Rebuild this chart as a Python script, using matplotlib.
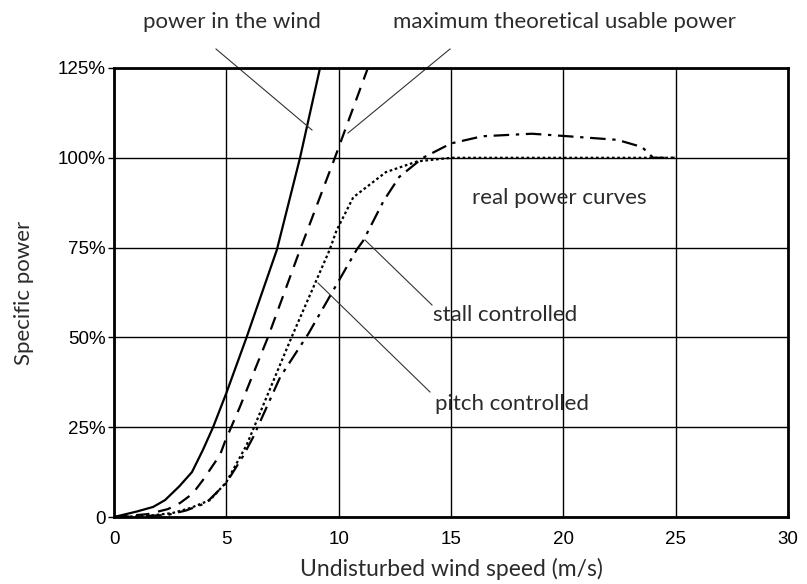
import matplotlib
matplotlib.use("Agg")
import matplotlib.pyplot as plt

# power in the wind (solid)
wind_x = [0, 1.0, 1.74, 2.27, 2.9, 3.47, 3.96, 4.41, 5.0, 5.9, 7.25, 8.28, 9.17]
wind_y = [0, 1.5, 2.8, 4.7, 8.5, 12.5, 18.7, 25, 34.5, 50, 74.4, 100, 125]

# maximum theoretical usable power (dashed)
betz_x = [0, 1.5, 2.4, 2.94, 3.5, 3.96, 4.72, 4.94, 5.6, 6.85, 8.28, 9.83, 11.3]
betz_y = [0, 0.8, 2.2, 3.9, 6.5, 10.3, 17.3, 21, 30.6, 50, 74.4, 100, 125]

# pitch controlled (dotted)
pitch_x = [0, 1.5, 2.6, 3.4, 4.27, 5.0, 5.9, 7.9, 9.6, 9.9, 10.65, 12.1, 13.5, 15, 20, 25]
pitch_y = [0, 0.3, 1.1, 2.5, 4.7, 9.7, 20, 50, 74.4, 79.7, 89, 96, 99, 100, 100, 100]

# stall controlled (dash-dot)
stall_x = [0, 1.5, 2.4, 3.2, 4.1, 5.0, 5.75, 6.2, 7.4, 8.65, 9.75, 10.8, 11.1, 12.0, 12.7,
           13.75, 15.0, 16.4, 18.6, 20.2, 22.4, 23.5, 24.0, 25.0]
stall_y = [0, 0.3, 0.6, 1.8, 3.9, 9.5, 17, 22.3, 39, 51, 63, 74.4, 77, 88, 94.7,
           100, 104, 106, 106.7, 106, 105, 103, 100, 100]

x_ticks = [0, 5, 10, 15, 20, 25, 30]
y_ticks = [0, 25, 50, 75, 100, 125]
y_tick_labels = ["0", "25%", "50%", "75%", "100%", "125%"]

ann_font = "Lato"
tick_font = "Liberation Sans"
txt_col = "#2b2b2b"

fig = plt.figure(figsize=(8.07, 5.84), dpi=100)
ax = fig.add_axes([114/807, 1 - 517/584, (788-114)/807, (517-68)/584])

ax.set_xlim(0, 30)
ax.set_ylim(0, 125)
ax.set_xticks(x_ticks)
ax.set_yticks(y_ticks)
ax.set_yticklabels(y_tick_labels)
ax.grid(True, color="black", linewidth=1.0)
ax.set_axisbelow(True)
for s in ax.spines.values():
    s.set_linewidth(2.0)
ax.tick_params(axis="x", length=0, pad=10, labelsize=13.5)
ax.tick_params(axis="y", length=4, width=1, pad=2, labelsize=13.5)
for lab in ax.get_xticklabels() + ax.get_yticklabels():
    lab.set_fontfamily(tick_font)

ax.plot(wind_x, wind_y, color="black", lw=1.6, ls="-")
ax.plot(betz_x, betz_y, color="black", lw=1.6, ls=(0, (6, 4)))
ax.plot(pitch_x, pitch_y, color="black", lw=1.6, ls=(0, (1.2, 1.2)))
ax.plot(stall_x, stall_y, color="black", lw=1.6, ls=(0, (7, 3, 1.5, 3)))

ax.set_xlabel("Undisturbed wind speed (m/s)", fontfamily=ann_font, fontsize=16.5,
              color=txt_col, labelpad=7)
ax.set_ylabel("Specific power", fontfamily=ann_font, fontsize=16,
              color=txt_col, labelpad=17)

def px2data(px, py):
    return ((px - 114) / (788 - 114) * 30, (517 - py) / (517 - 68) * 125)

def annot(text, tx, ty, lx0, ly0, lx1, ly1):
    x, y = px2data(tx, ty)
    ax.text(x, y, text, ha="center", va="center", fontfamily=ann_font,
            fontsize=16, color=txt_col, clip_on=False)
    if lx0 is not None:
        a = px2data(lx0, ly0)
        b = px2data(lx1, ly1)
        ax.plot([a[0], b[0]], [a[1], b[1]], color="#333333", lw=0.8, clip_on=False)

annot("power in the wind", 232, 22, 216, 49, 312, 130)
annot("maximum theoretical usable power", 564, 22, 450, 49, 348, 133)
annot("real power curves", 559, 198, None, None, None, None)
annot("stall controlled", 505, 315, 365, 240, 432, 305)
annot("pitch controlled", 512, 404, 318, 283, 430, 392)

fig.savefig("out.png", dpi=100)
